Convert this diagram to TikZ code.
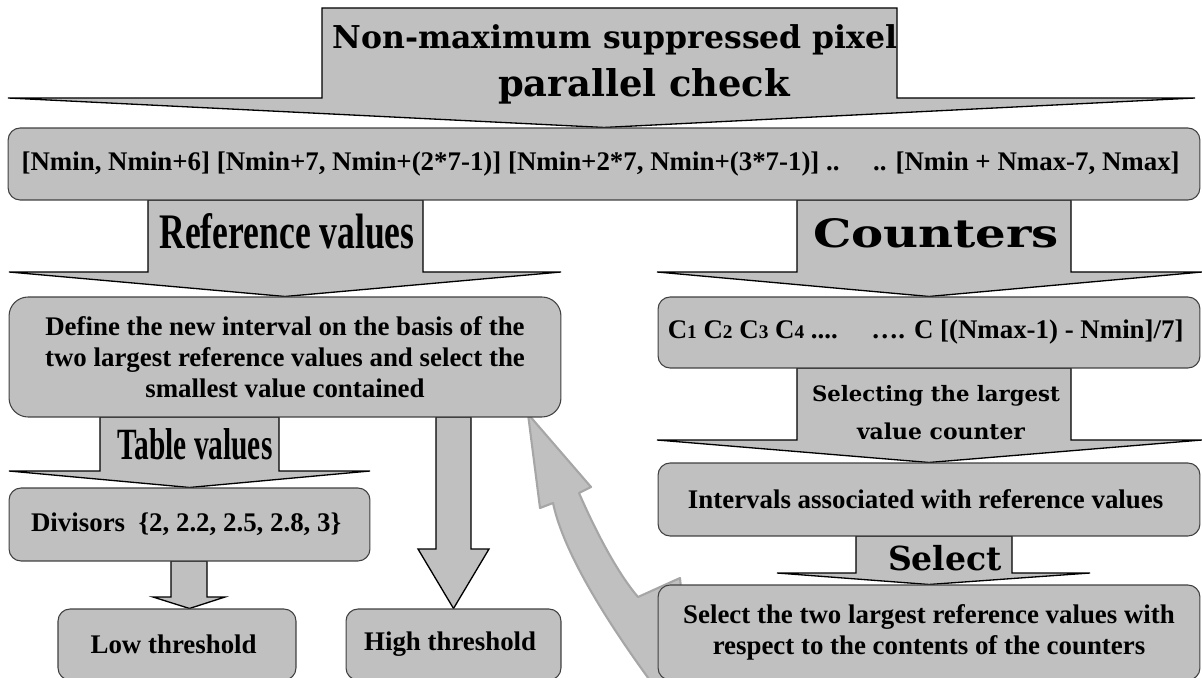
\documentclass[tikz,border=0pt]{standalone}
\usepackage{fontspec}
\setmainfont{Liberation Serif}
\newfontfamily\artfont{DejaVu Serif}
\usepackage{tikz}
\usetikzlibrary{
    positioning,
    calc,
    backgrounds
}
\definecolor{wordgray}{HTML}{C0C0C0}
\definecolor{boxline}{HTML}{404040}
\definecolor{loopline}{HTML}{A6A6A6}
\newcommand{\wordart}[3]{\resizebox{#1}{#2}{\bfseries #3}}
\newcommand{\cidx}[1]{{\fontsize{11pt}{11pt}\selectfont #1}}

\begin{document}
\begin{tikzpicture}[
    x=0.02cm,
    y=-0.02cm,
    every node/.style={
        font=\fontsize{15.3pt}{17.6pt}\selectfont\bfseries
    },
    stage/.style={
        rectangle,
        rounded corners=0.24cm,
        draw=boxline,
        line width=0.6pt,
        fill=wordgray,
        align=center,
        inner sep=0pt
    },
    art/.style={
        inner sep=0pt
    },
    callout/.style={
        draw=black,
        line width=0.75pt,
        fill=wordgray,
        line join=miter
    },
    loopback/.style={
        draw=loopline,
        line width=1.2pt,
        fill=wordgray,
        line join=round
    }
]
\useasboundingbox (0,0) rectangle (1202,678);

% ==========================================================
% Parallel check and intervals
% ==========================================================
\node[art] (nmsline) at (615,40) {
    \wordart{11.3cm}{!}{\artfont Non-maximum suppressed pixel}
};
\node[art] (checkline) at (644,86) {
    \wordart{5.84cm}{!}{\artfont parallel check}
};

\node[
    stage,
    minimum width=23.84cm,
    minimum height=1.44cm
] (intervals) at (604,164) {
    [Nmin, Nmin+6] [Nmin+7, Nmin+(2*7-1)] [Nmin+2*7, Nmin+(3*7-1)] ..\quad\ .. [Nmin + Nmax-7, Nmax]
};

% ==========================================================
% Reference values branch
% ==========================================================
\node[art] (reftitle) at (287,231) {
    \wordart{5.1cm}{0.7cm}{Reference values}
};

\node[
    stage,
    rounded corners=0.38cm,
    minimum width=11.04cm,
    minimum height=2.4cm
] (newint) at (285,357) {
    Define the new interval on the basis of the\\
    two largest reference values and select the\\
    smallest value contained
};

\node[art] (tabtitle) at (195,444) {
    \wordart{3.1cm}{0.62cm}{Table values}
};

\node[
    stage,
    minimum width=7.22cm,
    minimum height=1.46cm
] (divisors) at (189.5,524.5) {
    Divisors\ \ \{2, 2.2, 2.5, 2.8, 3\}
};

\node[
    stage,
    minimum width=4.76cm,
    minimum height=1.42cm
] (lowth) at (177,644.5) {
    Low threshold
};

\node[
    stage,
    minimum width=4.3cm,
    minimum height=1.42cm
] (highth) at (453.5,644.5) {
    High threshold
};

% ==========================================================
% Counters branch
% ==========================================================
\node[art] (cnttitle) at (936,233) {
    \wordart{4.92cm}{0.58cm}{\artfont Counters}
};

\node[
    stage,
    minimum width=10.84cm,
    minimum height=1.42cm
] (cbox) at (929,332.5) {
    C\cidx{1} C\cidx{2} C\cidx{3} C\cidx{4} ....\quad\ …. C [(Nmax-1) - Nmin]/7]
};

\node[art] (seltitle) at (936,396) {
    \wordart{4.96cm}{!}{\artfont Selecting the largest}
};
\node[art] (seltitleb) at (941,431) {
    \wordart{3.36cm}{!}{\artfont value counter}
};

\node[
    stage,
    minimum width=10.84cm,
    minimum height=1.46cm
] (assoc) at (929,499.5) {
    Intervals associated with reference values
};

\node[art] (picktitle) at (945,558) {
    \wordart{2.28cm}{!}{\artfont Select}
};

\node[
    stage,
    minimum width=10.84cm,
    minimum height=1.9cm
] (choose) at (929,632.5) {
    Select the two largest reference values with\\
    respect to the contents of the counters
};

% ==========================================================
% Callout arrows
% ==========================================================
\begin{scope}[on background layer]

\draw[loopback]
    (528,414) -- (591,487) -- (579,493)
    .. controls (593,525) and (615,570) .. (638,597)
    -- (680,578) -- (690,680) -- (657,690)
    .. controls (620,640) and (565,560) .. (553,503)
    -- (540,508) -- cycle;

\draw[callout]
    (322,8) -- (322,98) -- (8,98) -- (intervals.north)
    -- (1195,98) -- (897,98) -- (897,8) -- cycle;

\draw[callout]
    (148,200) -- (148,272) -- (9,272) -- (newint.north)
    -- (561,272) -- (423,272) -- (423,200) -- cycle;

\draw[callout]
    (797,200) -- (797,272) -- (657,272) -- (cbox.north)
    -- (1202,272) -- (1071,272) -- (1071,200) -- cycle;

\draw[callout]
    (100,417) -- (100,471) -- (9,471) -- (divisors.north)
    -- (370,471) -- (279,471) -- (279,417) -- cycle;

\draw[callout]
    (797,368) -- (797,440) -- (657,440) -- (assoc.north)
    -- (1202,440) -- (1071,440) -- (1071,368) -- cycle;

\draw[callout]
    (856,536) -- (856,573) -- (777,573) -- (choose.north)
    -- (1090,573) -- (1012,573) -- (1012,536) -- cycle;

\draw[callout]
    (171,561) -- (171,597) -- (153,597) -- (divisors.south |- lowth.north)
    -- (225,597) -- (207,597) -- (207,561) -- cycle;

\draw[callout]
    (436,417) -- (436,549) -- (418,549) -- (highth.north)
    -- (489,549) -- (471,549) -- (471,417) -- cycle;

\end{scope}

\end{tikzpicture}
\end{document}
